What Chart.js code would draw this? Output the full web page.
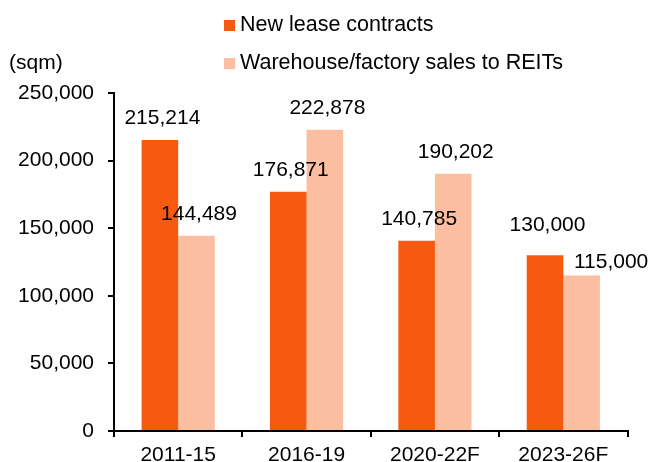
<!DOCTYPE html>
<html>
<head>
<meta charset="utf-8">
<script src="https://cdn.jsdelivr.net/npm/chart.js@4"></script>
<style>
  body { margin: 0; background: #fff; }
</style>
</head>
<body>
<canvas id="grafico" width="651" height="462"></canvas>
<script>
// dados
var categorias = ['2011-15', '2016-19', '2020-22F', '2023-26F'];
var novosContratos = [215214, 176871, 140785, 130000];
var vendasREITs = [144489, 222878, 190202, 115000];
var ticksY = [0, 50000, 100000, 150000, 200000, 250000];
var unidade = '(sqm)';

var fonte = 'Liberation Sans, Arial, sans-serif';

// legenda empilhada + unidade no canto
const legendaPlugin = {
  id: 'legenda',
  afterDraw(chart) {
    const ctx = chart.ctx;
    ctx.save();
    ctx.font = '21px ' + fonte;
    ctx.fillStyle = '#000';
    ctx.textBaseline = 'middle';
    ctx.textAlign = 'left';
    ctx.fillText(unidade, 9, 63);
    ctx.font = '21.5px ' + fonte;
    const linhas = [25, 63];
    chart.data.datasets.forEach(function (ds, i) {
      ctx.fillStyle = ds.backgroundColor;
      ctx.fillRect(224, linhas[i] - 5, 11, 11);
      ctx.fillStyle = '#000';
      ctx.fillText(ds.label, 240, linhas[i]);
    });
    ctx.restore();
  }
};

// rotulos de valor em cima das barras
// (no original alguns rotulos foram arrastados a mao: ajuste por dataset-indice)
const ajustes = { '0-3': [0, -8], '1-3': [27, 8] };
const rotulosPlugin = {
  id: 'rotulos',
  afterDatasetsDraw(chart) {
    const ctx = chart.ctx;
    ctx.save();
    ctx.font = '21px ' + fonte;
    ctx.fillStyle = '#000';
    ctx.textAlign = 'center';
    ctx.textBaseline = 'alphabetic';
    chart.data.datasets.forEach(function (ds, i) {
      chart.getDatasetMeta(i).data.forEach(function (barra, j) {
        const aj = ajustes[i + '-' + j] || [0, 0];
        ctx.fillText(ds.data[j].toLocaleString('en-US'), barra.x + 2.5 + aj[0], barra.y - 16 + aj[1]);
      });
    });
    ctx.restore();
  }
};

const config = {
  type: 'bar',
  data: {
    labels: categorias,
    datasets: [{
      label: 'New lease contracts',
      data: novosContratos,
      backgroundColor: '#F55A0E',
      categoryPercentage: 0.57,
      barPercentage: 1.0
    }, {
      label: 'Warehouse/factory sales to REITs',
      data: vendasREITs,
      backgroundColor: '#FBBEA0',
      categoryPercentage: 0.57,
      barPercentage: 1.0
    }]
  },
  options: {
    responsive: false,
    animation: false,
    layout: { padding: { top: 93, right: 23.5, bottom: 0, left: 0 } },
    plugins: {
      legend: { display: false },
      tooltip: { enabled: false }
    },
    scales: {
      x: {
        grid: { drawOnChartArea: false, color: '#000', lineWidth: 2, tickLength: 6, offset: true },
        border: { color: '#000', width: 2 },
        ticks: { color: '#000', font: { family: fonte, size: 21 }, padding: 6, maxRotation: 0 },
        afterFit(scale) { scale.height = 31; }
      },
      y: {
        min: 0,
        max: 250000,
        afterBuildTicks(scale) {
          scale.ticks = ticksY.map(function (v) { return { value: v }; });
        },
        grid: { drawOnChartArea: false, color: '#000', lineWidth: 2, tickLength: 6 },
        border: { color: '#000', width: 2 },
        ticks: {
          color: '#000',
          font: { family: fonte, size: 21 },
          padding: 14,
          callback: function (v) { return v.toLocaleString('en-US'); }
        },
        afterFit(scale) { scale.width = 114; }
      }
    }
  },
  plugins: [legendaPlugin, rotulosPlugin]
};

let meuGrafico = new Chart(document.getElementById('grafico'), config);
</script>
</body>
</html>
